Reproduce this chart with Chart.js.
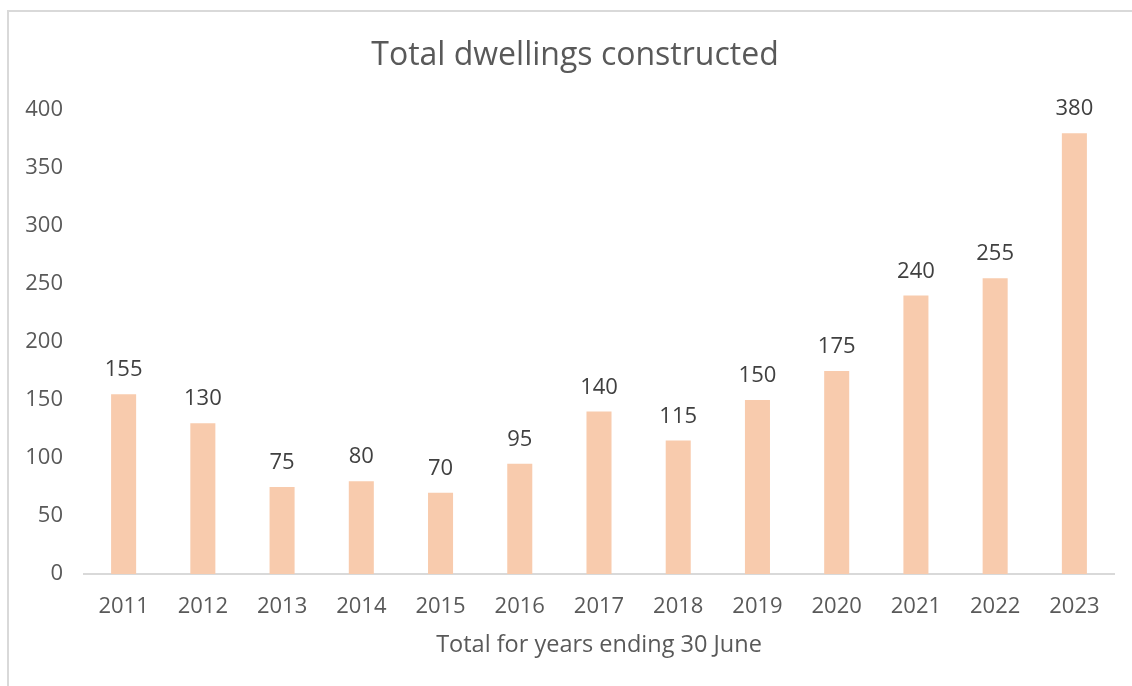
<!DOCTYPE html>
<html lang="en">
<head>
    <meta charset="UTF-8">
    <title>Total dwellings constructed</title>
    <script src="https://cdn.jsdelivr.net/npm/chart.js"></script>
    <style>
        html, body { margin: 0; padding: 0; background: #fff; overflow: hidden; }
        .frame {
            position: absolute;
            left: 7px;
            top: 10px;
            width: 1140px;
            height: 700px;
            border: 2px solid #d9d9d9;
        }
        .chart-box {
            position: absolute;
            left: 0;
            top: 0;
            width: 1132px;
            height: 686px;
        }
    </style>
</head>
<body>
    <div class="frame"></div>
    <div class="chart-box"><canvas id="chart" width="1132" height="686"></canvas></div>
    <script>
        const years = ['2011', '2012', '2013', '2014', '2015', '2016', '2017', '2018', '2019', '2020', '2021', '2022', '2023'];
        const dwellings = [155, 130, 75, 80, 70, 95, 140, 115, 150, 175, 240, 255, 380];
        const yTicks = [0, 50, 100, 150, 200, 250, 300, 350, 400];
        const chartTitle = 'Total dwellings constructed';

        const fontName = '"Open Sans", "Noto Sans", sans-serif';

        // title is centred on the whole frame, not on the canvas minus the axis
        const frameTitle = {
            id: 'frameTitle',
            afterDraw(chart) {
                const ctx = chart.ctx;
                ctx.save();
                ctx.font = '32px ' + fontName;
                ctx.fillStyle = '#595959';
                ctx.textAlign = 'center';
                ctx.textBaseline = 'alphabetic';
                ctx.fillText(chartTitle, 575, 65);
                ctx.restore();
            }
        };

        // labels above each bar
        const barLabels = {
            id: 'barLabels',
            afterDatasetsDraw(chart) {
                const ctx = chart.ctx;
                const meta = chart.getDatasetMeta(0);
                ctx.save();
                ctx.font = '22px ' + fontName;
                ctx.fillStyle = '#404040';
                ctx.textAlign = 'center';
                ctx.textBaseline = 'alphabetic';
                meta.data.forEach((bar, i) => {
                    ctx.fillText(String(dwellings[i]), bar.x, bar.y - 18);
                });
                ctx.restore();
            }
        };

        new Chart(document.getElementById('chart').getContext('2d'), {
            type: 'bar',
            data: {
                labels: years,
                datasets: [{
                    data: dwellings,
                    backgroundColor: '#f8cbad',
                    borderWidth: 0,
                    categoryPercentage: 1,
                    barPercentage: 0.316
                }]
            },
            options: {
                responsive: false,
                animation: false,
                layout: { padding: { left: 0, right: 18, top: 110, bottom: 12 } },
                plugins: {
                    legend: { display: false },
                    tooltip: { enabled: false },
                    title: { display: false }
                },
                scales: {
                    x: {
                        grid: { display: false, drawTicks: false },
                        border: { display: true, color: '#d9d9d9', width: 2 },
                        ticks: {
                            color: '#595959',
                            font: { family: fontName, size: 22 },
                            padding: 20,
                            maxRotation: 0,
                            autoSkip: false
                        },
                        title: {
                            display: true,
                            text: 'Total for years ending 30 June',
                            color: '#595959',
                            font: { family: fontName, size: 23.5, lineHeight: 1.2 },
                            padding: { top: 0, bottom: 15 }
                        },
                        afterFit(scale) { scale.height = 100; }
                    },
                    y: {
                        min: 0,
                        max: 400,
                        grid: { display: false, drawTicks: false },
                        border: { display: false },
                        afterBuildTicks(scale) {
                            scale.ticks = yTicks.map(v => ({ value: v }));
                        },
                        ticks: {
                            color: '#595959',
                            font: { family: fontName, size: 22 },
                            padding: 21
                        },
                        afterFit(scale) { scale.width = 84; }
                    }
                }
            },
            plugins: [barLabels, frameTitle]
        });
    </script>
</body>
</html>
